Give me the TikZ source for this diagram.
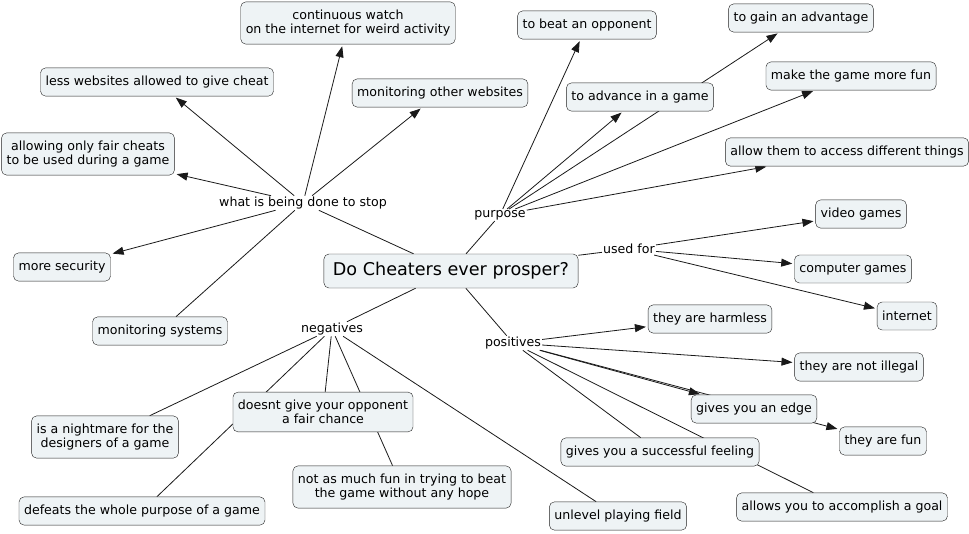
\documentclass[tikz,border=0pt]{standalone}
\usepackage{fontspec}
\setmainfont{DejaVu Sans}
\usetikzlibrary{arrows.meta,backgrounds}
\definecolor{boxfill}{HTML}{EEF3F5}
\definecolor{boxline}{HTML}{222222}
\begin{document}
\begin{tikzpicture}[x=1pt,y=-1pt,
	concept/.style={draw=boxline, fill=boxfill, rounded corners=5pt, align=center,
		inner xsep=5pt, inner ysep=8pt, minimum height=28pt, font=\fontsize{12.6}{14}\selectfont},
	linkword/.style={inner sep=1pt, font=\fontsize{12.6}{14}\selectfont},
	link/.style={draw=black!90, line width=0.8pt},
	arr/.style={link, -{Triangle[length=11pt,width=8pt]}, shorten >=2pt}]
		\useasboundingbox (0,0) rectangle (969,533);
		
		\node [concept, font=\fontsize{17.6}{20}\selectfont, minimum height=34pt, inner xsep=9pt, inner ysep=4pt] (cheat) at (451,271) {Do Cheaters ever prosper?};
		
		\node [linkword] (stop) at (303,203) {what is being done to stop};
		\node [linkword] (purpose) at (500,215) {purpose};
		\node [linkword] (usedfor) at (629,249) {used for};
		\node [linkword] (negatives) at (332,329) {negatives};
		\node [linkword] (positives) at (513,343) {positives};
		
		\node [concept] (watch) at (348,23) {continuous watch\\on the internet for weird activity};
		\node [concept] (lesssites) at (157,82) {less websites allowed to give cheat};
		\node [concept] (othersites) at (440,93) {monitoring other websites};
		\node [concept] (faircheats) at (88,154) {allowing only fair cheats\\to be used during a game};
		\node [concept] (security) at (62,267) {more security};
		\node [concept] (systems) at (160,331) {monitoring systems};
		
		\node [concept] (beat) at (587,25) {to beat an opponent};
		\node [concept] (gain) at (801,18) {to gain an advantage};
		\node [concept] (morefun) at (851,76) {make the game more fun};
		\node [concept] (advance) at (640,97) {to advance in a game};
		\node [concept] (access) at (847,152) {allow them to access different things};
		
		\node [concept] (video) at (861,214) {video games};
		\node [concept] (computer) at (853,269) {computer games};
		\node [concept] (internet) at (907,316) {internet};
		
		\node [concept] (harmless) at (710,319) {they are harmless};
		\node [concept] (notillegal) at (859,367) {they are not illegal};
		\node [concept] (edge) at (754,409) {gives you an edge};
		\node [concept] (fun) at (883,441) {they are fun};
		\node [concept] (feeling) at (660,452) {gives you a successful feeling};
		\node [concept] (goal) at (842,507) {allows you to accomplish a goal};
		\node [concept] (unlevel) at (618,516) {unlevel playing field};
		
		\node [concept] (nightmare) at (105,437) {is a nightmare for the\\designers of a game};
		\node [concept] (fairchance) at (323,412) {doesnt give your opponent\\a fair chance};
		\node [concept] (hope) at (402,487) {not as much fun in trying to beat\\the game without any hope};
		\node [concept] (defeats) at (142,511) {defeats the whole purpose of a game};
		
		\begin{pgfonlayer}{background}
		% what is being done
		\draw [link] (cheat) -- (stop);
		\draw [arr] (stop) -- (watch);
		\draw [arr] (stop) -- (lesssites);
		\draw [arr] (stop) -- (othersites);
		\draw [arr] (stop) -- (faircheats);
		\draw [arr] (stop) -- (security);
		\draw [link] (stop) -- (systems);
		
		% purpose
		\draw [link] (cheat) -- (purpose);
		\draw [arr] (purpose) -- (beat);
		\draw [arr] (purpose) -- (advance);
		\draw [arr] (purpose) -- (gain);
		\draw [arr] (purpose) -- (morefun);
		\draw [arr] (purpose) -- (access);
		
		% used for
		\draw [link] (cheat) -- (usedfor);
		\draw [arr] (usedfor) -- (video);
		\draw [arr] (usedfor) -- (computer);
		\draw [arr] (usedfor) -- (internet);
		
		% positives
		\draw [link] (cheat) -- (positives);
		\draw [arr] (positives) -- (harmless);
		\draw [arr] (positives) -- (notillegal);
		\draw [arr] (positives) -- (edge);
		\draw [arr] (positives) -- (fun);
		\draw [link] (positives) -- (feeling);
		\draw [link] (positives) -- (goal);
		
		% negatives
		\draw [link] (cheat) -- (negatives);
		\draw [link] (negatives) -- (nightmare);
		\draw [link] (negatives) -- (fairchance);
		\draw [link] (negatives) -- (hope);
		\draw [link] (negatives) -- (defeats);
		\draw [link] (negatives) -- (unlevel);
		\end{pgfonlayer}
		
		\end{tikzpicture}
\end{document}
